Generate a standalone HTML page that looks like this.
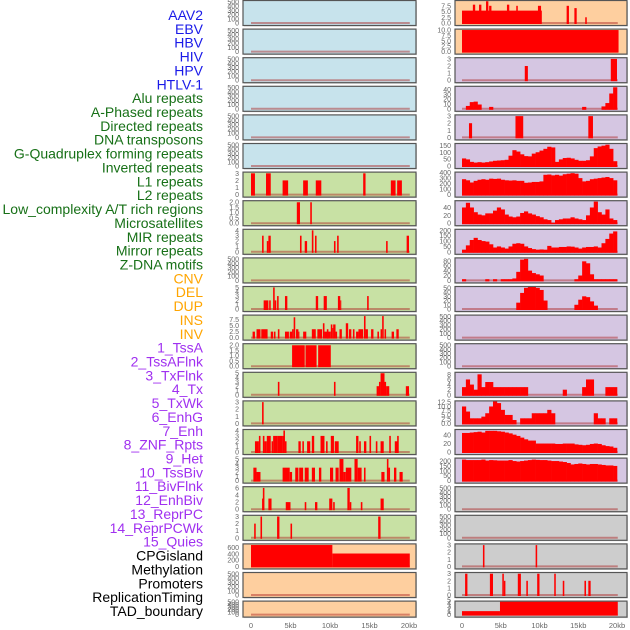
<!DOCTYPE html>
<html><head><meta charset="utf-8"><style>
html,body{margin:0;padding:0;background:#fff;}
svg{display:block;font-family:"Liberation Sans",sans-serif;}
</style></head><body>
<svg id="chart" width="630" height="630" viewBox="0 0 630 630" xmlns="http://www.w3.org/2000/svg"></svg>
<script>
// ---------- labels ----------
const labelNames = ["AAV2","EBV","HBV","HIV","HPV","HTLV-1","Alu repeats","A-Phased repeats","Directed repeats","DNA transposons","G-Quadruplex forming repeats","Inverted repeats","L1 repeats","L2 repeats","Low_complexity A/T rich regions","Microsatellites","MIR repeats","Mirror repeats","Z-DNA motifs","CNV","DEL","DUP","INS","INV","1_TssA","2_TssAFlnk","3_TxFlnk","4_Tx","5_TxWk","6_EnhG","7_Enh","8_ZNF_Rpts","9_Het","10_TssBiv","11_BivFlnk","12_EnhBiv","13_ReprPC","14_ReprPCWk","15_Quies","CPGisland","Methylation","Promoters","ReplicationTiming","TAD_boundary"];
const labelGroups = [6,13,5,15,5];
const groupColors = ["#1a1ae8","#177017","#ffa500","#a030f0","#000000"];

// ---------- x axis ----------
const xTickValues = [0,5,10,15,20];
const xTickLabels = ["0","5kb","10kb","15kb","20kb"];

// ---------- tick sets ----------
const ticks500 = [0,100,200,300,400,500];
const ticks3 = [0,1,2,3];

// ---------- left column data (bars: [startKb, endKb, value]) ----------
const L6Bars = [[0,0.5,3],[1.9,2.5,3],[4.0,4.7,2],[6.6,7.2,2],[8.2,8.9,2],[14.2,14.5,3],[17.7,18.3,2],[18.5,19.1,2]];
const L7Bars = [[5.8,6.2,2],[7.5,7.7,2]];
const L8Bars = [[1.4,1.6,3],[2.0,2.2,2],[2.2,2.5,3],[6.2,6.4,3],[6.8,7.1,2],[7.7,7.9,4],[8.1,8.3,3],[10.5,10.7,2],[10.9,11.1,3],[17.1,17.3,2],[19.7,20,3]];
const L10Bars = [[1.6,2.2,2],[2.3,2.5,2],[2.8,3.0,5],[3.0,3.2,2],[3.3,3.5,3],[4.3,4.6,3],[8.2,8.5,3],[9.2,9.6,3],[11.0,11.3,3],[11.3,11.4,2],[14.7,14.9,3]];
const L11Bars = [[0.2,0.5,2.5],[0.7,1.2,3.5],[1.3,2.1,3.5],[2.5,2.8,2.5],[2.9,3.1,2.5],[3.4,3.6,3.5],[4.3,4.8,2.5],[4.9,5.2,2.5],[5.2,5.4,3.5],[5.4,5.6,8.5],[5.7,6.0,3.5],[6.0,6.1,2.5],[6.6,7.0,2.5],[7.7,8.2,3.5],[8.4,9.0,3.5],[9.1,9.3,6],[9.3,10.1,2.5],[9.6,9.8,3.5],[10.1,10.3,5.5],[10.3,10.4,4],[10.4,10.7,5.5],[10.7,10.9,2.5],[11.2,11.5,3.5],[12.0,12.3,6],[12.4,12.7,3.5],[12.9,13.1,3.5],[13.3,13.6,2.5],[13.6,14.2,3.5],[14.3,14.5,9],[14.5,14.8,3.5],[15.2,15.5,3.5],[16.0,16.2,2.5],[16.4,16.6,3.5],[16.6,16.8,9],[16.9,17.1,3.5],[17.8,18.1,2.5],[18.4,18.7,3.5]];
const L12Bars = [[5.2,6.8,2],[6.9,8.3,2],[8.5,10.1,2]];
const L13Bars = [[3.4,3.6,3],[10.5,10.7,3],[15.9,16.2,2],[16.2,16.4,3],[16.4,16.9,5],[16.9,17.1,3],[17.1,17.5,2],[19.6,20,2]];
const L14Bars = [[1.4,1.6,3]];
const L15Bars = [[0.5,1.0,2],[1.0,1.2,3],[1.5,1.7,3],[1.7,2.0,2],[2.0,2.5,3],[2.6,2.8,2],[2.8,3.1,3],[3.1,3.4,3],[3.4,4.0,3],[4.0,4.1,3],[4.1,4.3,4],[4.3,4.5,2],[6.0,6.3,2],[6.5,6.7,2],[7.1,7.5,2],[7.7,8.0,3],[8.8,9.3,3],[9.5,9.7,2],[10.1,10.5,3],[10.6,11.1,2],[13.3,13.6,3],[13.7,13.9,2],[14.3,14.6,2],[15.0,15.2,3],[15.8,16.0,2],[16.4,16.8,2],[17.5,17.7,3],[18.2,18.6,2],[18.5,18.7,3]];
const L16Bars = [[0.3,0.7,3],[0.7,1.2,2],[4.0,4.9,3],[4.9,5.2,2],[5.6,6.0,3],[6.1,6.6,3],[6.8,7.3,3],[7.7,8.1,3],[8.6,8.9,3],[10.0,10.4,3],[10.7,11.1,3],[11.2,11.7,5],[11.7,12.0,2],[12.0,12.7,3],[13.1,13.5,5],[13.5,14.0,3],[14.3,14.5,3],[16.5,16.9,2],[17.2,17.4,5],[17.4,17.6,3],[18.1,18.4,3],[18.8,19.2,2]];
const L17Bars = [[1.4,1.5,3],[1.5,1.7,6],[2.2,2.6,3],[4.4,5.0,2],[6.8,7.0,2],[8.1,8.4,2],[9.9,10.3,3],[10.4,10.6,2],[12.2,12.5,6],[12.5,12.7,2],[13.9,14.1,2],[16.4,16.8,3]];
const L18Bars = [[0.4,0.6,2],[1.2,1.4,3],[3.3,3.6,3],[5.0,5.2,2],[16.1,16.4,3]];
const L19Bars = [[0,10.3,680],[10.3,20.1,410]];

// ---------- right column data ----------
const R0Bars = [[0,10.3,5.4],[1.4,1.7,8],[2.2,2.5,8],[3.1,3.4,9.5],[3.5,3.8,7.5],[5.8,6.1,8],[7.0,7.2,7.5],[9.8,10.2,7.5],[13.5,13.8,7.5],[14.5,14.8,6.5],[15.9,16.1,2.5]];
const R1Bars = [[0,20.2,10]];
const R2Bars = [[8.1,8.5,2],[19.2,20,3]];
const R3Values = [0,6,14,15,9,0,0,4,0,0,0,0,0,0,0,0,0,0,0,0,0,0,0,0,0,0,0,0,0,0,0,4,0,0,0,0,5,12,32,45];
const R4Bars = [[0.9,1.3,2],[6.9,7.9,3],[16.3,16.9,3]];
const R5Values = [55,48,30,25,28,25,28,33,38,40,42,45,75,115,105,85,72,70,90,100,112,125,140,135,30,48,58,60,55,45,38,38,42,70,130,142,148,155,125,35];
const R6Values = [280,260,220,250,270,280,270,290,285,290,270,260,255,260,250,250,215,220,230,230,240,360,365,350,360,345,370,380,390,380,300,240,250,280,290,300,310,320,300,260];
const R7Values = [40,52,40,28,22,20,25,25,32,40,35,22,17,15,17,26,30,25,22,18,15,10,8,1,8,10,12,12,15,12,10,8,20,40,55,28,22,35,12,8];
const R8Values = [20,60,110,130,110,100,95,70,40,50,40,30,50,75,80,75,50,35,25,20,22,20,55,40,40,45,45,50,48,40,30,40,45,45,50,40,80,120,170,190];
const R9Values = [5,0,0,0,0,0,5,0,5,0,5,5,5,8,35,85,88,40,30,25,20,0,0,0,0,0,0,0,0,5,20,78,70,25,5,5,5,5,5,5];
const R10Values = [0,0,0,0,0,0,0,0,0,0,0,0,0,0,15,38,50,52,52,50,45,20,0,0,0,0,0,0,0,10,22,30,28,18,8,0,0,0,0,0];
const R13Values = [3,6,4,2,8,3,5,5,3,3,3,3,3,3,3,3,3,0,0,0,0,0,0,0,0,0,2,0,0,0,0,3,6,6,0,0,0,3,3,3];
const R14Values = [10,7,3,3,3,4,6,10,13,12,8,5,5,2,0,3,3,3,6,6,6,6,8,6,0,0,0,0,0,0,0,0,0,0,6,3,3,0,3,3];
const R15Values = [45,45,46,47,48,46,50,50,50,49,48,46,44,41,38,34,30,27,27,20,20,20,20,20,19,19,20,20,20,18,17,16,17,19,20,19,16,14,13,10];
const R16Values = [215,210,210,210,210,215,205,210,208,205,205,205,210,200,195,200,205,210,215,212,210,210,205,200,200,195,190,180,165,170,175,170,165,170,170,165,160,155,155,150];
const R19Bars = [[2.7,2.9,3],[9.5,9.7,3]];
const R20Bars = [[0.4,0.7,3],[3.6,4.0,3],[5.2,5.4,3],[5.4,5.6,2],[7.2,7.6,3],[8.3,8.5,2],[9.7,10.0,3],[11.9,12.1,3],[13.0,13.2,2],[15.8,16.0,2],[16.3,16.6,2]];
const R21Bars = [[0,4.9,1.2],[4.9,20.1,4.5]];

const BLUE="#c7e3ec", GREEN="#c8e1a4", ORANGE="#fecf9f", PURPLE="#d5c6e2", GRAY="#cdcdcd";
const leftPanels = [
 {bg:BLUE,top:520,ticks:ticks500},{bg:BLUE,top:520,ticks:ticks500},{bg:BLUE,top:520,ticks:ticks500},
 {bg:BLUE,top:520,ticks:ticks500},{bg:BLUE,top:520,ticks:ticks500},{bg:BLUE,top:520,ticks:ticks500},
 {bg:GREEN,top:3.1,ticks:ticks3,bars:L6Bars},
 {bg:GREEN,top:2.1,ticks:[0,0.5,1,1.5,2],fmt:1,bars:L7Bars},
 {bg:GREEN,top:4.1,ticks:[0,1,2,3,4],bars:L8Bars},
 {bg:GREEN,top:520,ticks:ticks500},
 {bg:GREEN,top:5.1,ticks:[0,1,2,3,4,5],bars:L10Bars},
 {bg:GREEN,top:9.2,ticks:[0,2.5,5,7.5],fmt:1,bars:L11Bars},
 {bg:GREEN,top:2.1,ticks:[0,0.5,1,1.5,2],fmt:1,bars:L12Bars},
 {bg:GREEN,top:5.1,ticks:[0,1,2,3,4,5],bars:L13Bars},
 {bg:GREEN,top:3.1,ticks:ticks3,bars:L14Bars},
 {bg:GREEN,top:4.1,ticks:[0,1,2,3,4],bars:L15Bars},
 {bg:GREEN,top:5.1,ticks:[0,1,2,3,4,5],bars:L16Bars},
 {bg:GREEN,top:6.2,ticks:[0,2,4,6],bars:L17Bars},
 {bg:GREEN,top:3.1,ticks:ticks3,bars:L18Bars},
 {bg:ORANGE,top:700,ticks:[0,200,400,600],bars:L19Bars},
 {bg:ORANGE,top:520,ticks:ticks500},
 {bg:ORANGE,top:520,ticks:ticks500}
];
const rightPanels = [
 {bg:ORANGE,top:9.6,ticks:[0,2.5,5,7.5],fmt:1,bars:R0Bars},
 {bg:ORANGE,top:10.2,ticks:[0,2.5,5,7.5,10],fmt:1,bars:R1Bars},
 {bg:PURPLE,top:3.1,ticks:ticks3,bars:R2Bars},
 {bg:PURPLE,top:46,ticks:[0,10,20,30,40],vals:R3Values},
 {bg:PURPLE,top:3.1,ticks:ticks3,bars:R4Bars},
 {bg:PURPLE,top:160,ticks:[0,50,100,150],vals:R5Values},
 {bg:PURPLE,top:400,ticks:[0,100,200,300,400],vals:R6Values},
 {bg:PURPLE,top:56,ticks:[0,20,40],vals:R7Values},
 {bg:PURPLE,top:205,ticks:[0,50,100,150,200],vals:R8Values},
 {bg:PURPLE,top:90,ticks:[0,20,40,60,80],vals:R9Values},
 {bg:PURPLE,top:52,ticks:[0,10,20,30,40,50],vals:R10Values},
 {bg:PURPLE,top:520,ticks:ticks500},
 {bg:PURPLE,top:520,ticks:ticks500},
 {bg:PURPLE,top:8.6,ticks:[0,2,4,6,8],vals:R13Values},
 {bg:PURPLE,top:13,ticks:[0,2.5,5,7.5,10,12.5],fmt:1,vals:R14Values},
 {bg:PURPLE,top:52,ticks:[0,20,40],vals:R15Values},
 {bg:PURPLE,top:225,ticks:[0,50,100,150,200],vals:R16Values},
 {bg:GRAY,top:520,ticks:ticks500},
 {bg:GRAY,top:520,ticks:ticks500},
 {bg:GRAY,top:3.1,ticks:ticks3,bars:R19Bars},
 {bg:GRAY,top:3.1,ticks:ticks3,bars:R20Bars},
 {bg:GRAY,top:4.5,ticks:[0,1,2,3,4,5],bars:R21Bars}
];

const NS="http://www.w3.org/2000/svg";
const svg=document.getElementById('chart');
function mk(tag,attrs,parent){const e=document.createElementNS(NS,tag);for(const k in attrs)e.setAttribute(k,attrs[k]);(parent||svg).appendChild(e);return e;}

let idx=0;
labelGroups.forEach((n,g)=>{for(let i=0;i<n;i++){
  const t=mk('text',{x:203,y:15+idx*13.86+5,'text-anchor':'end','font-size':14,fill:groupColors[g]});
  t.textContent=labelNames[idx];
  
  
  idx++;}});

const cols=[{panels:leftPanels,fx:243,fw:173,x0:251,sx:7.9,tx:239,name:'left'},{panels:rightPanels,fx:455,fw:172,x0:462,sx:7.75,tx:451,name:'right'}];
cols.forEach(c=>{
  const xs=kb=>c.x0+kb*c.sx;
  c.panels.forEach((p,i)=>{
    const T=i*28.6+0.5, H=(i===21)?16:25;
    const g=mk('g',{});
    
    
    mk('rect',{x:c.fx+1,y:T+1,width:c.fw,height:H,fill:'#d8d8d8'},g);
    mk('rect',{x:c.fx,y:T,width:c.fw,height:H,fill:p.bg},g);
    const y0=T+H-2.5, span=H-3;
    const ys=v=>y0-v/p.top*span;
    mk('line',{x1:xs(0),x2:xs(20.1),y1:y0,y2:y0,stroke:'rgba(170,30,30,0.45)','stroke-width':2},g);
    if(p.bars){p.bars.forEach(b=>{
      const r=mk('rect',{x:xs(b[0]),y:ys(b[2]),width:Math.max(1,xs(b[1])-xs(b[0])),height:y0-ys(b[2])+1,fill:'#ff0000'},g);
      
      
    });}
    if(p.vals){const w=20/p.vals.length;p.vals.forEach((v,k)=>{
      if(v<=0)return;
      const r=mk('rect',{x:xs(k*w),y:ys(v),width:xs((k+1)*w)-xs(k*w)+0.3,height:y0-ys(v)+1,fill:'#ff0000'},g);
      
      
    });}
    mk('rect',{x:c.fx,y:T,width:c.fw,height:H,fill:'none',stroke:'#555','stroke-width':1.2},g);
    p.ticks.forEach(tv=>{
      const t=mk('text',{x:c.tx,y:ys(tv)+2.5,'text-anchor':'end','font-size':7,fill:'#666'},g);
      t.textContent=p.fmt?tv.toFixed(1):String(tv);
      
      
    });
  });
  xTickValues.forEach((v,k)=>{
    const t=mk('text',{x:xs(v),y:628,'text-anchor':'middle','font-size':7.5,fill:'#666'});
    t.textContent=xTickLabels[k];
    
    
  });
});
</script>
</body></html>
